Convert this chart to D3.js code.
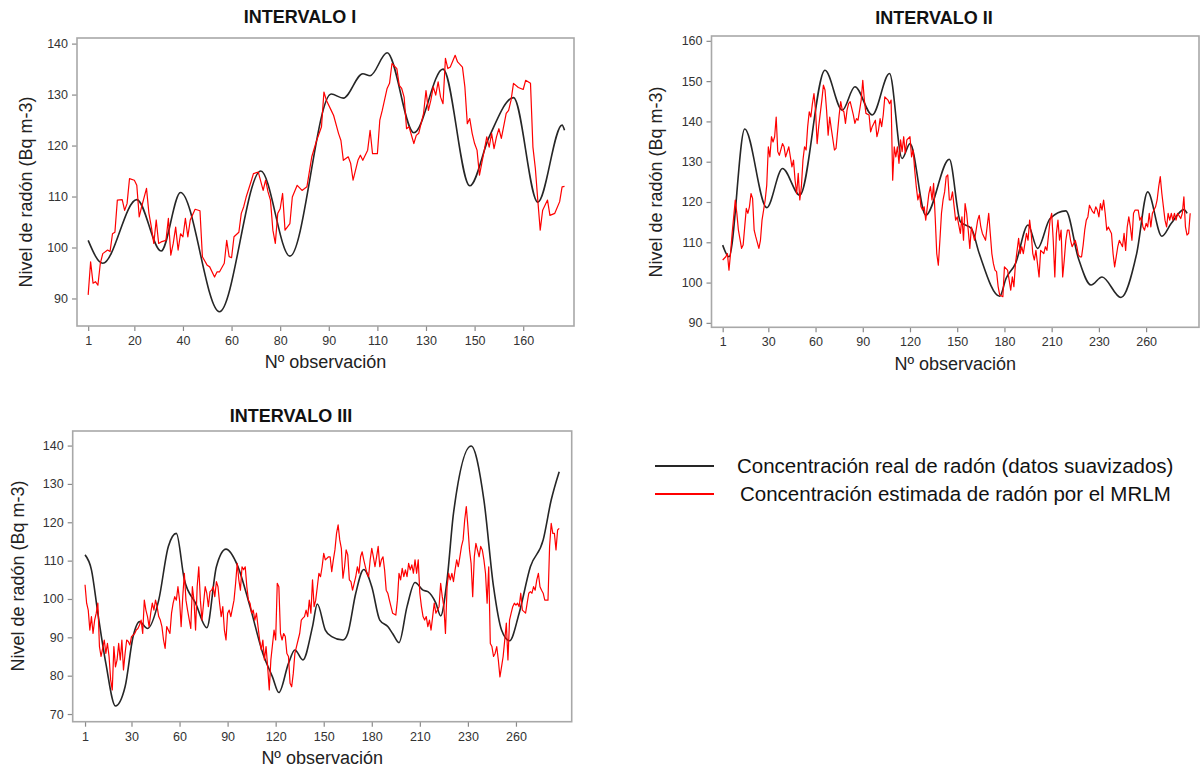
<!DOCTYPE html>
<html>
<head>
<meta charset="utf-8">
<script src="https://cdn.jsdelivr.net/npm/d3@7"></script>
<style>
  body { margin: 0; background: #fff; }
  svg { display: block; }
</style>
</head>
<body>
<svg id="chart" width="1202" height="769"></svg>
<script>
// ---- Tick positions (observation index) and their printed labels ----
const xTickObsI = [1, 20, 40, 60, 80, 100, 120, 140, 160, 180];
const xTickLabelsI = ["1", "20", "40", "60", "80", "90", "110", "130", "150", "160"];
const xTickObsII = [1, 30, 60, 90, 120, 150, 180, 210, 240, 270];
const xTickLabelsII = ["1", "30", "60", "90", "120", "150", "180", "210", "230", "260"];
const xTickObsIII = [1, 30, 60, 90, 120, 150, 180, 210, 240, 270];
const xTickLabelsIII = ["1", "30", "60", "90", "120", "150", "180", "210", "230", "260"];
const yTicksI = [90, 100, 110, 120, 130, 140];
const yTicksII = [90, 100, 110, 120, 130, 140, 150, 160];
const yTicksIII = [70, 80, 90, 100, 110, 120, 130, 140];

// ---- Interval I: [observation, Bq m-3] ----
const realI = [[1,101.4],[7,96.9],[21,109.4],[31,99.3],[39,110.8],[55,87.4],[72,115],[84,98.3],[101,130.1],[106,129.3],[114,134.1],[117,133.7],[124,138.2],[135,122.5],[147,135],[158,112.1],[166,121.7],[176,129.4],[186,108.9],[196,124],[197,123]];
const estI = [[1,90.7],[2,97.2],[3,93],[4,93.3],[5,92.6],[6,96.9],[7,98.8],[9,99.5],[10,99.2],[11,102.7],[12,103],[13,109.3],[15,109.4],[16,107.3],[17,108.6],[18,113.5],[20,113.2],[21,112.2],[22,106],[23,108],[25,111.6],[26,106.7],[27,104],[28,100.8],[29,105.4],[30,100.8],[31,101.1],[33,101.4],[34,105.7],[35,98.5],[36,100.8],[37,104],[38,99.5],[39,102.7],[40,102.1],[41,105.7],[42,102.1],[43,105.4],[45,107.5],[47,107.2],[48,98.2],[50,96.5],[51,96.2],[53,94.2],[54,95.2],[55,95.2],[57,96.9],[58,101.4],[59,98.2],[60,98],[61,102.1],[63,103],[64,106.7],[65,108],[66,109.9],[68,112.9],[69,114.5],[71,114.8],[73,111.2],[74,113.2],[75,110.9],[76,109.3],[77,103.4],[78,100.8],[79,106.7],[80,107.6],[81,110.6],[82,103.4],[84,104.7],[85,109.9],[87,112.2],[89,111.2],[91,111.9],[93,117.8],[95,121],[97,123.7],[98,130.5],[99,128.9],[101,126.9],[102,125.9],[104,122.4],[105,121],[106,117.1],[108,117.8],[109,116.5],[110,113.2],[112,117.1],[113,118.1],[114,117.1],[116,119.1],[117,123],[118,118.4],[120,118.4],[121,125],[122,126.9],[124,131.2],[125,132.2],[126,136.1],[128,135.1],[129,131.8],[130,131.2],[131,129.5],[132,123.3],[133,123.7],[135,120.4],[136,122],[137,122.4],[139,126.3],[140,130.8],[141,126.9],[142,128.9],[143,131.5],[144,129.9],[145,132.5],[146,129.5],[147,128.2],[148,137.1],[149,135.1],[150,135.4],[152,137.7],[153,136.4],[155,135.4],[156,131.5],[157,124.3],[158,125.3],[159,122.4],[160,120.4],[161,119.1],[162,114.2],[164,119.1],[165,121.7],[166,119.7],[167,122.4],[168,119.4],[169,121.7],[170,123.3],[171,121.4],[173,126.3],[174,126.9],[175,128.9],[176,132.2],[178,131.4],[180,131],[181,132.8],[183,132.2],[184,119.7],[185,115.5],[186,109.3],[187,103.4],[188,107.3],[190,109.3],[191,106.3],[193,106.7],[195,109],[196,111.9],[197,112]];

// ---- Interval II ----
const realII = [[1,109.3],[5,106.4],[15,138.1],[29,118.6],[39,128.3],[50,121.7],[66,152.7],[77,142.8],[85,148.6],[96,141.6],[107,151.9],[115,130.8],[120,134.5],[130,116.7],[145,130.6],[152,115.1],[159,113.4],[164,107.2],[177,96.6],[181,101],[187,104.7],[195,114.3],[201,108.5],[209,115.9],[219,117.8],[227,106],[235,99.4],[242,101.4],[254,96.3],[264,107.2],[271,122.5],[280,111.5],[286,114.7],[294,118.1],[296,117.2]];
const estII = [[1,105.6],[3,106.4],[4,107.2],[5,103.1],[6,107.2],[7,112.2],[9,120.5],[10,117.2],[11,113],[13,108.5],[14,109.3],[16,118.4],[17,117.2],[18,118.8],[19,122.1],[20,120.9],[21,113],[22,111.4],[24,108.5],[25,110.5],[26,115.5],[28,120.5],[29,124.2],[30,133.7],[31,131.2],[32,136.2],[33,134.9],[34,136.2],[35,141.1],[36,132.5],[37,131.6],[39,134.5],[40,133.7],[41,131.2],[43,133.7],[44,131.2],[45,128.7],[46,130.4],[47,125.4],[48,122.1],[49,127.1],[50,120.5],[51,123.8],[52,130.4],[53,133.7],[54,132.9],[55,138.7],[56,142.4],[57,141.1],[58,144.4],[59,146.9],[60,142.8],[61,134.5],[62,138.7],[64,145.3],[65,149],[66,147.8],[67,142.8],[68,136.6],[69,141.1],[70,138.2],[72,132.9],[73,133.3],[75,141.6],[76,144.9],[77,142.8],[78,142.4],[79,139.5],[80,142.8],[81,144.4],[82,144.9],[84,141.6],[85,139.5],[86,140.7],[87,140.3],[89,145.3],[90,150.2],[91,145.3],[92,142],[94,141.6],[95,137.4],[96,138.7],[98,140.3],[99,136.2],[100,137.8],[101,140.7],[102,138.7],[103,141.6],[104,146.1],[106,145.3],[107,144.4],[108,145.3],[109,125.4],[110,133.7],[111,131.2],[112,133.7],[113,129.6],[114,135.4],[115,132.5],[116,136.2],[117,132.1],[118,135.4],[120,136.2],[121,131.2],[122,132.9],[123,127.9],[124,123.8],[125,120.5],[126,122.1],[127,118.8],[128,118],[129,118.8],[130,115.5],[131,118.8],[132,122.1],[133,123.8],[134,120.5],[135,124.6],[136,116.3],[137,107.2],[138,104.3],[139,110.5],[140,117.2],[141,120.5],[142,122.5],[143,126.3],[144,126.7],[145,120.5],[146,120.5],[147,122.5],[149,115.5],[150,116.3],[152,112.2],[153,116.3],[154,110.5],[155,119.6],[156,117.2],[157,113],[158,108.5],[159,113.8],[161,110.5],[163,115.5],[164,116.7],[165,113.8],[166,112.2],[168,110.5],[170,117.2],[171,112.2],[172,107.2],[173,104.7],[174,103.1],[175,102.7],[176,99],[177,96.9],[179,96.5],[180,103.9],[182,103.1],[183,100.6],[184,98.1],[185,101.4],[186,99],[187,104.7],[189,111],[190,107.2],[191,108.9],[192,107.2],[194,112.2],[195,110.5],[196,115.5],[197,112.2],[198,107.2],[199,105.6],[200,108],[201,104.7],[202,101.4],[203,108],[205,107.2],[206,108.9],[207,108],[209,115.5],[210,117.2],[211,110.5],[212,101.4],[213,112.2],[214,115.5],[215,110.5],[216,113],[217,101.4],[218,105.6],[219,110.5],[220,113],[221,113],[222,110.5],[223,108.9],[225,110.5],[226,108.9],[227,106.8],[228,106.4],[229,106.4],[230,109.3],[231,113],[232,115.5],[233,116.3],[234,119.2],[236,117.6],[237,117.2],[238,118.8],[239,118],[240,116.3],[241,119.6],[242,118],[243,120.5],[244,117.2],[245,113],[246,113.8],[247,113],[248,112.2],[249,107.2],[250,103.9],[251,106.4],[252,108.9],[253,110.5],[255,108.9],[256,112.2],[257,108],[258,113.8],[259,116.3],[260,113.8],[261,110.5],[262,117.2],[263,118],[265,118],[266,115.5],[267,116.3],[268,113.8],[269,113],[270,114.7],[271,113.8],[272,117.2],[273,113.8],[274,117.2],[276,118.8],[277,120.5],[278,123.8],[279,126.3],[280,122.1],[281,118.8],[282,115.5],[283,113.8],[284,117.2],[285,115.5],[286,117.2],[287,115.5],[288,117.2],[289,115.5],[290,117.2],[292,115.9],[293,117.2],[294,121.3],[295,113.8],[296,111.8],[297,112.2],[298,117.2]];

// ---- Interval III ----
const realIII = [[1,111.5],[5,107.6],[9,96.3],[14,83.2],[20,72.1],[26,77.1],[31,90.2],[35,94.1],[40,92.3],[47,99.7],[53,113.7],[58,117.1],[63,105],[70,98.9],[77,92.5],[83,108.4],[89,113],[96,108.9],[104,98],[112,85.8],[118,79.7],[122,75.6],[128,83.2],[132,86.7],[137,84.1],[143,92.8],[146,98.7],[151,91.9],[155,90.2],[162,89.3],[165,91],[170,101.5],[175,107.7],[180,103.2],[185,94.5],[190,92.8],[193,91],[197,88.6],[202,98],[207,104.3],[212,102.3],[215,101.9],[220,98.9],[223,95.6],[227,105],[231,122.3],[242,139.9],[250,125.8],[256,103.2],[261,91.9],[266,89.1],[272,96.3],[279,108.4],[287,115.4],[292,125.8],[297,133.2]];
const estIII = [[1,103.7],[2,98.9],[3,97.1],[4,91.9],[5,95.4],[6,91],[7,94.5],[8,96.3],[9,98.9],[10,87.6],[11,85],[13,89.3],[14,85.8],[15,88.4],[16,85],[17,78.9],[18,76.3],[19,87.6],[20,82.3],[21,84.1],[22,88.4],[23,84.1],[24,89.3],[25,81.5],[26,85.8],[27,89.3],[28,88.9],[29,88],[30,90.2],[32,91],[33,91.9],[34,92.3],[35,93.2],[36,94.5],[37,91],[38,99.7],[39,97.1],[40,95.4],[41,92.8],[42,96.3],[43,98.9],[44,97.1],[45,99.7],[46,98],[47,95.4],[48,94.5],[49,92.8],[50,89.3],[51,87.1],[52,92.8],[53,91.9],[54,91],[55,96.3],[56,98.9],[57,100.6],[58,99.7],[59,103.2],[60,99.7],[61,92.8],[62,100.6],[63,106.7],[64,99.7],[65,97.1],[67,92.3],[68,103.2],[69,99.7],[70,91.9],[71,103.2],[72,108.4],[73,99.7],[74,94.5],[75,98.9],[76,103.2],[77,101.5],[78,98],[79,101.9],[80,102.3],[81,103.2],[82,100.6],[83,104.5],[84,103.2],[85,98.9],[86,95.4],[87,98],[88,91.9],[89,89.3],[90,96.3],[91,97.1],[92,95.4],[94,99.7],[95,104.1],[96,109.3],[97,105],[98,102.3],[99,108.4],[100,107.6],[101,108.4],[102,103.2],[103,99.7],[104,98.9],[105,96.3],[106,97.1],[107,94.5],[108,96.3],[109,92.8],[110,89.3],[111,86.7],[112,89.3],[113,84.1],[114,87.6],[115,82.3],[116,76.3],[117,84.1],[119,91.9],[120,89.3],[121,104.1],[122,103.2],[123,91],[124,89.3],[125,91],[126,90.2],[127,85.8],[128,85],[129,78],[130,77.1],[131,80.6],[132,85.8],[133,87.6],[134,89.3],[135,91],[136,94.5],[137,95],[138,95.4],[139,97.1],[140,95.4],[141,99.7],[142,96.3],[143,105],[144,98],[145,99.7],[146,103.2],[147,106.7],[148,105.8],[149,108.4],[150,111.9],[151,110.2],[153,111],[154,111],[155,107.1],[156,110.2],[157,112.8],[158,117.1],[159,119.3],[160,115.4],[161,113.2],[162,105.4],[163,108.4],[164,112.8],[165,111.5],[166,105],[167,104.5],[168,102.3],[170,105.8],[171,108.4],[172,106.7],[173,111],[174,112.3],[175,110.2],[176,108.4],[177,106.7],[178,105.8],[179,110.2],[180,113.2],[181,111],[182,108.4],[183,111],[184,113.7],[185,108.4],[186,110.2],[187,111],[188,107.6],[189,102.3],[190,101.5],[191,99.7],[192,98],[193,96.3],[195,95.8],[196,99.7],[197,106.7],[198,105],[199,108],[200,105.8],[201,107.6],[202,105.8],[203,109.3],[204,107.6],[205,108.9],[206,106.7],[207,110.2],[208,106.7],[209,110.2],[210,101.5],[211,98],[212,95.4],[213,94.5],[214,95.4],[215,92.8],[216,94.5],[217,91.9],[218,95.4],[219,98.9],[220,96.3],[222,98],[223,104.1],[224,100.6],[225,98],[226,91],[227,103.2],[228,106.7],[229,105],[230,106.7],[231,104.5],[232,107.6],[233,110.2],[234,108.4],[235,111],[236,113.7],[237,115.4],[238,120.6],[239,124.1],[240,118.9],[241,112.8],[242,109.3],[243,100.6],[244,111],[245,114.5],[247,111],[248,113.7],[249,112.8],[250,110.2],[251,106.7],[252,98.9],[253,108.4],[254,88.4],[255,87.6],[256,85],[257,85.8],[258,87.6],[259,84.1],[260,79.7],[261,82.3],[262,85],[263,89.3],[264,93.7],[265,84.1],[266,94.5],[267,96.3],[268,98],[269,98.9],[270,98.4],[271,98.9],[272,98],[273,101.5],[274,97.1],[276,96.3],[277,98.9],[278,101.5],[279,101.9],[280,101.5],[281,103.2],[282,102.3],[283,105],[284,106.7],[285,103.2],[286,102.3],[287,101.5],[288,99.7],[290,99.7],[291,113.7],[292,119.7],[293,117.1],[294,117.1],[295,112.8],[296,118],[297,118.4]];

// ---- Text ----
const panelTitles = ["INTERVALO I", "INTERVALO II", "INTERVALO III"];
const yAxisTitle = "Nivel de radón (Bq m-3)";
const xAxisTitle = "Nº observación";
const legendLabels = [
  "Concentración real de radón (datos suavizados)",
  "Concentración estimada de radón por el MRLM"
];

// ---- Layout of each panel (pixels and axis extents) ----
const panels = [
  { title: panelTitles[0], real: realI, est: estI,
    xTicks: xTickObsI, xLabels: xTickLabelsI, yTicks: yTicksI,
    left: 77, top: 38, right: 574, bottom: 326,
    xDomain: [-3.6, 200.9], yDomain: [84.6, 141.1],
    titleX: 300, titleY: 17, yTitleX: 26, yTitleY: 192 },
  { title: panelTitles[1], real: realII, est: estII,
    xTicks: xTickObsII, xLabels: xTickLabelsII, yTicks: yTicksII,
    left: 711.5, top: 36, right: 1199, bottom: 327.3,
    xDomain: [-6.1, 303.6], yDomain: [88.9, 161.2],
    titleX: 934, titleY: 18, yTitleX: 656, yTitleY: 182 },
  { title: panelTitles[2], real: realIII, est: estIII,
    xTicks: xTickObsIII, xLabels: xTickLabelsIII, yTicks: yTicksIII,
    left: 72.7, top: 431, right: 571.7, bottom: 721.7,
    xDomain: [-6.7, 304.8], yDomain: [68.0, 143.8],
    titleX: 291, titleY: 416, yTitleX: 18, yTitleY: 576 }
];

const COLOR_REAL = "#262626";
const COLOR_EST = "#ff0000";
const FONT = "'Liberation Sans', Arial, Helvetica, sans-serif";

const svg = d3.select("#chart");
svg.append("rect").attr("width", 1202).attr("height", 769).attr("fill", "#fff");

function drawPanel(p) {
  const x = d3.scaleLinear().domain(p.xDomain).range([p.left, p.right]);
  const y = d3.scaleLinear().domain(p.yDomain).range([p.bottom, p.top]);
  const g = svg.append("g");

  // x axis
  const gx = g.append("g")
    .attr("transform", `translate(0,${p.bottom})`)
    .call(d3.axisBottom(x)
      .tickValues(p.xTicks)
      .tickFormat((d, i) => p.xLabels[i])
      .tickSize(5)
      .tickPadding(5));
  // y axis
  const gy = g.append("g")
    .attr("transform", `translate(${p.left},0)`)
    .call(d3.axisLeft(y)
      .tickValues(p.yTicks)
      .tickSize(5)
      .tickPadding(4));
  [gx, gy].forEach(a => {
    a.select(".domain").remove();
    a.selectAll(".tick line").attr("stroke", "#8a8a8a").attr("stroke-width", 1.2);
    a.selectAll(".tick text")
      .attr("fill", "#333")
      .style("font-family", FONT)
      .style("font-size", "12.5px");
  });

  // frame
  g.append("rect")
    .attr("x", p.left).attr("y", p.top)
    .attr("width", p.right - p.left).attr("height", p.bottom - p.top)
    .attr("fill", "none").attr("stroke", "#a8a8a8").attr("stroke-width", 1.6);

  // smoothed measured concentration
  const realLine = d3.line()
    .x(d => x(d[0])).y(d => y(d[1]))
    .curve(d3.curveMonotoneX);
  g.append("path")
    .datum(p.real)
    .attr("d", realLine)
    .attr("fill", "none")
    .attr("stroke", COLOR_REAL)
    .attr("stroke-width", 1.6);

  // model estimate
  const estLine = d3.line().x(d => x(d[0])).y(d => y(d[1]));
  g.append("path")
    .datum(p.est)
    .attr("d", estLine)
    .attr("fill", "none")
    .attr("stroke", COLOR_EST)
    .attr("stroke-width", 1.2)
    .attr("stroke-linejoin", "round");

  // titles
  g.append("text")
    .attr("x", p.titleX).attr("y", p.titleY)
    .attr("text-anchor", "middle").attr("dy", "0.35em")
    .style("font-family", FONT).style("font-weight", "bold").style("font-size", "18px")
    .attr("fill", "#111")
    .text(p.title);

  g.append("text")
    .attr("x", (p.left + p.right) / 2).attr("y", p.bottom + 36)
    .attr("text-anchor", "middle").attr("dy", "0.35em")
    .style("font-family", FONT).style("font-size", "18px")
    .attr("fill", "#222")
    .text(xAxisTitle);

  g.append("text")
    .attr("transform", `translate(${p.yTitleX},${p.yTitleY}) rotate(-90)`)
    .attr("text-anchor", "middle").attr("dy", "0.35em")
    .style("font-family", FONT).style("font-size", "18px")
    .attr("fill", "#222")
    .text(yAxisTitle);
}

panels.forEach(drawPanel);

// legend
const legendColors = [COLOR_REAL, COLOR_EST];
const legendRows = [466, 494];
const legendTextX = [737, 740];
const legend = svg.append("g");
legendLabels.forEach((label, i) => {
  legend.append("line")
    .attr("x1", 655).attr("x2", 714)
    .attr("y1", legendRows[i]).attr("y2", legendRows[i])
    .attr("stroke", legendColors[i]).attr("stroke-width", 1.8);
  legend.append("text")
    .attr("x", legendTextX[i]).attr("y", legendRows[i])
    .attr("dy", "0.35em")
    .style("font-family", FONT).style("font-size", "20.5px")
    .attr("fill", "#111")
    .text(label);
});
</script>
</body>
</html>
